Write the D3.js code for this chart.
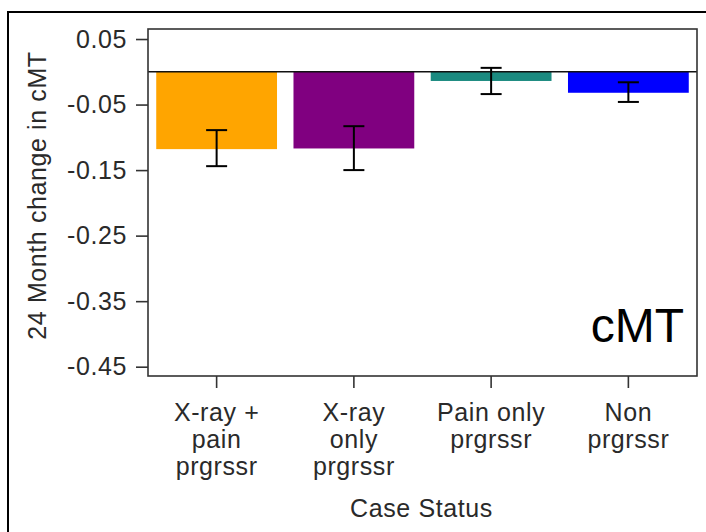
<!DOCTYPE html>
<html>
<head>
<meta charset="utf-8">
<script src="https://cdn.jsdelivr.net/npm/d3@7"></script>
<style>
    body { margin: 0; background: #fff; }
    #chart { width: 706px; height: 532px; overflow: hidden; }
    text { font-family: "Liberation Sans", Arial, sans-serif; fill: #2a2a2a; }
    .small { letter-spacing: 0.6px; }
</style>
</head>
<body>
<div id="chart"></div>
<script>
// chart data
var categories = ["xp", "xo", "po", "np"];
var catLabels = [["X-ray +", "pain", "prgrssr"], ["X-ray", "only", "prgrssr"], ["Pain only", "prgrssr"], ["Non", "prgrssr"]];
var means = [-0.118, -0.117, -0.014, -0.032];
var lowerCI = [-0.144, -0.150, -0.034, -0.046];
var upperCI = [-0.089, -0.083, 0.006, -0.016];
var barColors = ["#FFA500", "#800080", "#1B8A80", "#0000FF"];
var yTicks = [0.05, -0.05, -0.15, -0.25, -0.35, -0.45];

function init() {
    var W = 706, H = 532;
    // plot box in page pixels
    var left = 148, right = 697, top = 29, bottom = 376;

    var svg = d3.select("#chart")
        .append("svg")
        .attr("width", W)
        .attr("height", H);

    // outer frame, only left and top are visible
    svg.append("rect")
        .attr("x", 8).attr("y", 12)
        .attr("width", 760).attr("height", 600)
        .attr("fill", "none")
        .attr("stroke", "#000")
        .attr("stroke-width", 2);

    var data = categories.map((c, i) => ({
        key: c, lines: catLabels[i], mean: means[i], lo: lowerCI[i], hi: upperCI[i], color: barColors[i]
    }));

    var xScale = d3.scaleBand()
        .domain(categories)
        .range([left, right])
        .paddingInner(0.12)
        .paddingOuter(0.06);

    var yScale = d3.scaleLinear()
        .domain([-0.4642, 0.0653])
        .range([bottom, top]);

    // bars hang from zero
    svg.selectAll(".bar")
        .data(data)
        .enter()
        .append("rect")
        .attr("class", "bar")
        .attr("x", d => xScale(d.key))
        .attr("width", xScale.bandwidth())
        .attr("y", d => yScale(Math.max(0, d.mean)))
        .attr("height", d => Math.abs(yScale(d.mean) - yScale(0)))
        .attr("fill", d => d.color);

    // zero line
    svg.append("line")
        .attr("x1", left).attr("x2", right)
        .attr("y1", yScale(0)).attr("y2", yScale(0))
        .attr("stroke", "#111")
        .attr("stroke-width", 1.6);

    // error bars
    var capW = 10.5;
    var eb = svg.selectAll(".err")
        .data(data)
        .enter()
        .append("g")
        .attr("class", "err")
        .attr("stroke", "#000")
        .attr("stroke-width", 2);
    eb.append("line")
        .attr("x1", d => xScale(d.key) + xScale.bandwidth() / 2)
        .attr("x2", d => xScale(d.key) + xScale.bandwidth() / 2)
        .attr("y1", d => yScale(d.hi))
        .attr("y2", d => yScale(d.lo));
    ["hi", "lo"].forEach(k => {
        eb.append("line")
            .attr("x1", d => xScale(d.key) + xScale.bandwidth() / 2 - capW)
            .attr("x2", d => xScale(d.key) + xScale.bandwidth() / 2 + capW)
            .attr("y1", d => yScale(d[k]))
            .attr("y2", d => yScale(d[k]));
    });

    // plot frame
    svg.append("rect")
        .attr("x", left).attr("y", top)
        .attr("width", right - left).attr("height", bottom - top)
        .attr("fill", "none")
        .attr("stroke", "#333")
        .attr("stroke-width", 1.6);

    // y axis
    var yAxis = svg.append("g")
        .attr("transform", `translate(${left},0)`)
        .call(d3.axisLeft(yScale)
            .tickValues(yTicks)
            .tickSize(12)
            .tickPadding(9)
            .tickFormat(d => d.toFixed(2)));
    yAxis.select(".domain").remove();
    yAxis.selectAll("line").attr("stroke", "#333").attr("stroke-width", 1.6);
    yAxis.selectAll("text")
        .attr("class", "small")
        .attr("fill", "#2a2a2a")
        .style("font-size", "25px");

    // x axis with multi-line labels
    var xAxis = svg.append("g")
        .attr("transform", `translate(0,${bottom})`)
        .call(d3.axisBottom(xScale).tickSize(12).tickFormat(""));
    xAxis.select(".domain").remove();
    xAxis.selectAll("line").attr("stroke", "#333").attr("stroke-width", 1.6);

    svg.selectAll(".xlab")
        .data(data)
        .enter()
        .append("text")
        .attr("class", "xlab small")
        .attr("text-anchor", "middle")
        .style("font-size", "25px")
        .each(function(d) {
            var t = d3.select(this);
            d.lines.forEach((ln, j) => {
                t.append("tspan")
                    .attr("x", xScale(d.key) + xScale.bandwidth() / 2)
                    .attr("y", 421 + j * 27)
                    .text(ln);
            });
        });

    // axis titles
    svg.append("text")
        .attr("class", "small")
        .attr("text-anchor", "middle")
        .attr("x", (left + right) / 2 - 1)
        .attr("y", 517)
        .style("font-size", "25px")
        .text("Case Status");

    svg.append("text")
        .attr("class", "small")
        .attr("text-anchor", "middle")
        .attr("transform", `translate(46,${(top + bottom) / 2 - 7}) rotate(-90)`)
        .style("font-size", "25px")
        .text("24 Month change in cMT");

    // panel tag
    svg.append("text")
        .attr("text-anchor", "end")
        .attr("x", 684)
        .attr("y", 342)
        .style("font-size", "48px")
        .style("fill", "#000")
        .text("cMT");
}

window.onload = init;
</script>
</body>
</html>
